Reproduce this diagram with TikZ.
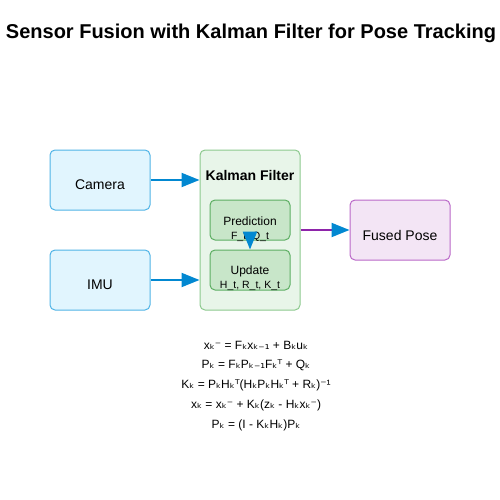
\documentclass[tikz,border=0pt]{standalone}
\usepackage{fontspec}
\setmainfont{Liberation Sans}
\newfontfamily\dvfont{DejaVu Sans}
\newcommand\dvs[1]{{\dvfont #1}}
\usetikzlibrary{arrows.meta}
\definecolor{camfill}{HTML}{E1F5FE}
\definecolor{camdraw}{HTML}{4FB3E6}
\definecolor{arrowblue}{HTML}{0288D1}
\definecolor{kffill}{HTML}{E8F5E9}
\definecolor{kfdraw}{HTML}{8CC98E}
\definecolor{subfill}{HTML}{C8E6C9}
\definecolor{subdraw}{HTML}{5DAE63}
\definecolor{fusefill}{HTML}{F3E5F5}
\definecolor{fusedraw}{HTML}{BA68C8}
\definecolor{purpleline}{HTML}{8E24AA}
\tikzset{
  box/.style={draw, rounded corners=5pt, line width=1pt, inner sep=0pt},
  sensor/.style={box, fill=camfill, draw=camdraw, minimum width=100pt, minimum height=60pt},
  kfbox/.style={box, fill=kffill, draw=kfdraw, minimum width=100pt, minimum height=160pt},
  subbox/.style={box, fill=subfill, draw=subdraw, minimum width=80pt, minimum height=40pt},
  fusebox/.style={box, fill=fusefill, draw=fusedraw, minimum width=100pt, minimum height=60pt},
  lbl/.style={inner sep=0pt, font=\fontsize{14pt}{16pt}\selectfont},
  small/.style={inner sep=0pt, font=\fontsize{12pt}{14pt}\selectfont},
  tiny/.style={inner sep=0pt, font=\fontsize{10.5pt}{12pt}\selectfont},
  eq/.style={inner sep=0pt, font=\fontsize{12pt}{14pt}\selectfont},
  flow/.style={line width=2pt, draw=arrowblue, -{Triangle[length=18pt,width=14pt,color=arrowblue]}},
  outflow/.style={line width=2pt, draw=purpleline, -{Triangle[length=18pt,width=14pt,color=arrowblue]}},
}
\begin{document}
\begin{tikzpicture}[x=1pt,y=-1pt]
\useasboundingbox (0,0) rectangle (500,500);
\node[inner sep=0pt, font=\fontsize{20pt}{24pt}\selectfont\bfseries] (title) at (251,33) {Sensor Fusion with Kalman Filter for Pose Tracking};
\node[sensor] (camera) at (100,180) {};
\node[lbl] (cameralbl) at (100,185) {Camera};
\node[sensor] (imu) at (100,280) {};
\node[lbl] (imulbl) at (100,285) {IMU};
\node[kfbox] (kf) at (250,230) {};
\node[lbl, font=\fontsize{14pt}{16pt}\selectfont\bfseries] (kflbl) at (250,175) {Kalman Filter};
\node[subbox] (pred) at (250,220) {};
\node[small] (predlbl) at (250,221) {Prediction};
\node[tiny] (predsub) at (250,237) {F\_t, Q\_t};
\node[subbox] (upd) at (250,270) {};
\node[small] (updlbl) at (250,271) {Update};
\node[tiny] (updsub) at (250,286) {H\_t, R\_t, K\_t};
\node[fusebox] (fused) at (400,230) {};
\node[lbl] (fusedlbl) at (400,235) {Fused Pose};
\coordinate (predout) at (250,232);
\draw[flow] (camera.east) -- (camera.east -| kf.west);
\draw[flow] (imu.east) -- (imu.east -| kf.west);
\draw[outflow] (kf.east) -- (fused.west);
\draw[flow] (predout) -- (upd.north);
\node[eq] (eq1) at (256,345) {x\dvs{ₖ⁻} = F\dvs{ₖ}x\dvs{ₖ₋₁} + B\dvs{ₖ}u\dvs{ₖ}};
\node[eq] (eq2) at (256,365) {P\dvs{ₖ} = F\dvs{ₖ}P\dvs{ₖ₋₁}F\dvs{ₖᵀ} + Q\dvs{ₖ}};
\node[eq] (eq3) at (256,385) {K\dvs{ₖ} = P\dvs{ₖ}H\dvs{ₖᵀ}(H\dvs{ₖ}P\dvs{ₖ}H\dvs{ₖᵀ} + R\dvs{ₖ})\dvs{⁻}¹};
\node[eq] (eq4) at (256,405) {x\dvs{ₖ} = x\dvs{ₖ⁻} + K\dvs{ₖ}(z\dvs{ₖ} - H\dvs{ₖ}x\dvs{ₖ⁻})};
\node[eq] (eq5) at (256,425) {P\dvs{ₖ} = (I - K\dvs{ₖ}H\dvs{ₖ})P\dvs{ₖ}};
\end{tikzpicture}
\end{document}
